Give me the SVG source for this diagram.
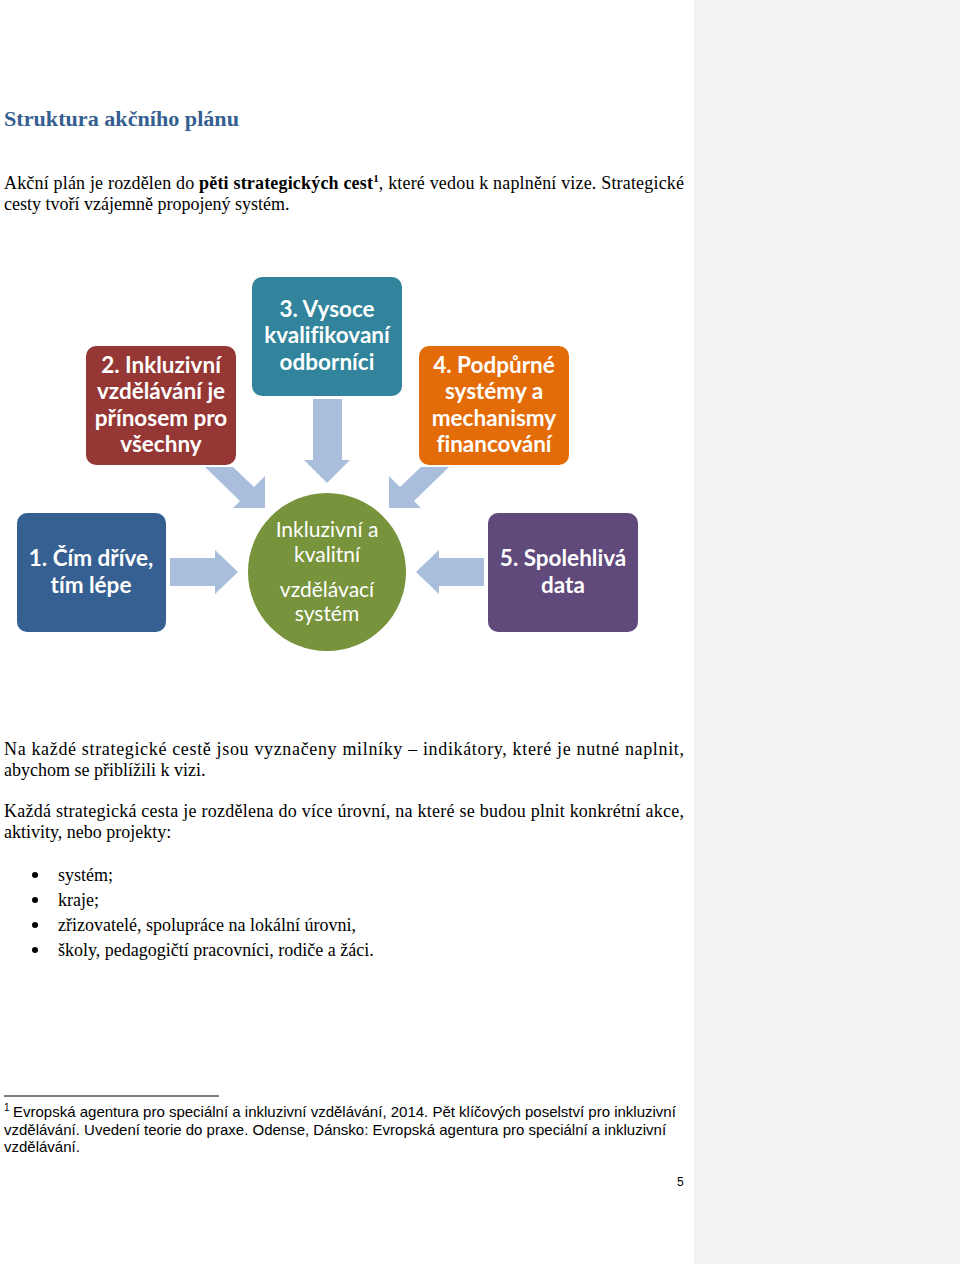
<svg xmlns="http://www.w3.org/2000/svg" width="960" height="1264" viewBox="0 0 960 1264">
<style>
.body{font-family:"Liberation Serif","Times New Roman",serif;font-size:18px;fill:#000}
.foot{font-family:"Liberation Sans",Arial,sans-serif;font-size:15px;fill:#000}
.nt{font-family:Lato,"Open Sans",sans-serif;font-weight:bold;font-size:22.5px;fill:#fff;text-anchor:middle;font-variant-ligatures:none}
.ct{font-family:Lato,"Open Sans",sans-serif;font-size:21px;fill:#fff;text-anchor:middle;font-variant-ligatures:none}
.arrow{fill:#a9bedc}
</style>
<rect x="0" y="0" width="960" height="1264" fill="#ffffff"/>
<rect x="694" y="0" width="266" height="1264" fill="#f3f3f3"/>

<text x="4" y="126" font-family="Liberation Serif,serif" font-weight="bold" font-size="20" fill="#365f91" textLength="235" lengthAdjust="spacingAndGlyphs">Struktura akčního plánu</text>

<text class="body" x="4" y="189" textLength="680" lengthAdjust="spacing">Akční plán je rozdělen do <tspan font-weight="bold">pěti strategických cest</tspan><tspan font-size="11" font-weight="bold" dy="-7">1</tspan><tspan dy="7">, které vedou k naplnění vize. Strategické</tspan></text>
<text class="body" x="4" y="210">cesty tvoří vzájemně propojený systém.</text>

<g id="connectors">
<path class="arrow" d="M170,558 L215,558 L215,550 L238,572 L215,594 L215,586 L170,586 Z"/>
<path class="arrow" d="M484,558 L439,558 L439,550 L416,572 L439,594 L439,586 L484,586 Z"/>
<path class="arrow" d="M313,399 L342,399 L342,460 L350,460 L327,483 L304,460 L313,460 Z"/>
<path class="arrow" d="M205,467 L233,467 L254,487 L265,476 L265,508 L233,508 L240,501 Z"/>
<path class="arrow" d="M449,467 L421,467 L400,487 L389,476 L389,508 L421,508 L414,501 Z"/>
</g>

<g id="node2">
<rect x="86" y="346" width="150" height="119" rx="10" fill="#953735"/>
<text class="nt" x="161" y="373">2. Inkluzivní</text>
<text class="nt" x="161" y="399">vzdělávání je</text>
<text class="nt" x="161" y="426">přínosem pro</text>
<text class="nt" x="161" y="452">všechny</text>
</g>
<g id="node3">
<rect x="252" y="277" width="150" height="119" rx="10" fill="#31849b"/>
<text class="nt" x="327" y="317">3. Vysoce</text>
<text class="nt" x="327" y="343">kvalifikovaní</text>
<text class="nt" x="327" y="370">odborníci</text>
</g>
<g id="node4">
<rect x="419" y="346" width="150" height="119" rx="10" fill="#e36c09"/>
<text class="nt" x="494" y="373">4. Podpůrné</text>
<text class="nt" x="494" y="399">systémy a</text>
<text class="nt" x="494" y="426">mechanismy</text>
<text class="nt" x="494" y="452">financování</text>
</g>
<g id="node1">
<rect x="17" y="513" width="149" height="119" rx="10" fill="#376092"/>
<text class="nt" x="91" y="566">1. Čím dříve,</text>
<text class="nt" x="91" y="593">tím lépe</text>
</g>
<g id="node5">
<rect x="488" y="513" width="150" height="119" rx="10" fill="#604a7b"/>
<text class="nt" x="563" y="566">5. Spolehlivá</text>
<text class="nt" x="563" y="593">data</text>
</g>
<g id="center">
<circle cx="327" cy="572" r="79" fill="#77933c"/>
<text class="ct" x="327" y="537">Inkluzivní a</text>
<text class="ct" x="327" y="562">kvalitní</text>
<text class="ct" x="327" y="597">vzdělávací</text>
<text class="ct" x="327" y="621">systém</text>
</g>

<text class="body" x="4" y="755" textLength="680" lengthAdjust="spacing">Na každé strategické cestě jsou vyznačeny milníky – indikátory, které je nutné naplnit,</text>
<text class="body" x="4" y="776">abychom se přiblížili k vizi.</text>
<text class="body" x="4" y="817" textLength="680" lengthAdjust="spacing">Každá strategická cesta je rozdělena do více úrovní, na které se budou plnit konkrétní akce,</text>
<text class="body" x="4" y="838">aktivity, nebo projekty:</text>

<g id="bullets">
<circle cx="35" cy="875" r="3" fill="#000"/>
<text class="body" x="58" y="881">systém;</text>
<circle cx="35" cy="900" r="3" fill="#000"/>
<text class="body" x="58" y="906">kraje;</text>
<circle cx="35" cy="925" r="3" fill="#000"/>
<text class="body" x="58" y="931">zřizovatelé, spolupráce na lokální úrovni,</text>
<circle cx="35" cy="950" r="3" fill="#000"/>
<text class="body" x="58" y="956">školy, pedagogičtí pracovníci, rodiče a žáci.</text>
</g>

<line x1="4" y1="1096" x2="219" y2="1096" stroke="#000" stroke-width="1"/>
<text class="foot" x="4" y="1111" style="font-size:10px">1</text>
<text class="foot" x="13" y="1117">Evropská agentura pro speciální a inkluzivní vzdělávání, 2014. Pět klíčových poselství pro inkluzivní</text>
<text class="foot" x="4" y="1135">vzdělávání. Uvedení teorie do praxe. Odense, Dánsko: Evropská agentura pro speciální a inkluzivní</text>
<text class="foot" x="4" y="1152">vzdělávání.</text>
<text class="foot" x="677" y="1186" style="font-size:12px">5</text>
</svg>
